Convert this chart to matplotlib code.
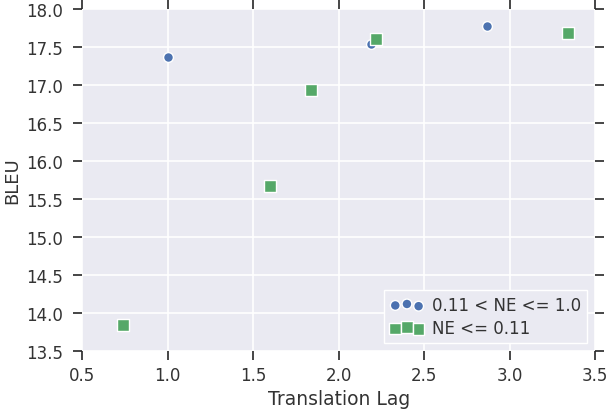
import matplotlib
matplotlib.use("Agg")
import matplotlib.pyplot as plt

# values
lag_high = [1.00, 2.19, 2.87]
bleu_high = [17.37, 17.54, 17.78]
lag_low = [0.74, 1.60, 1.84, 2.22, 3.34]
bleu_low = [13.84, 15.67, 16.94, 17.61, 17.69]
label_high = "0.11 < NE <= 1.0"
label_low = "NE <= 0.11"

blue = "#4C72B0"
green = "#55A868"

fig = plt.figure(figsize=(6.08, 4.10), dpi=100)
ax = fig.add_axes([0.135, 0.1415, 0.844, 0.834])
ax.set_facecolor("#EAEAF2")
for s in ax.spines.values():
    s.set_visible(False)
ax.grid(True, color="white", linewidth=1.2)
ax.set_axisbelow(True)

ax.scatter(lag_high, bleu_high, s=50, marker="o", color=blue, edgecolor="white",
           linewidth=1, label=label_high, zorder=3)
ax.scatter(lag_low, bleu_low, s=70, marker="s", color=green, edgecolor="white",
           linewidth=1, label=label_low, zorder=3)

ax.set_xlim(0.5, 3.5)
ax.set_ylim(13.5, 18.0)
ax.set_xticks([0.5, 1.0, 1.5, 2.0, 2.5, 3.0, 3.5])
ax.set_yticks([13.5, 14.0, 14.5, 15.0, 15.5, 16.0, 16.5, 17.0, 17.5, 18.0])
ax.tick_params(direction="out", length=6.5, width=1.2, color="#262626",
               top=True, right=True, labelsize=12, labelcolor="#333333")
ax.tick_params(axis="x", pad=4)
ax.tick_params(axis="y", pad=7.5)

ax.set_xlabel("Translation Lag", fontsize=13.5, color="#333333", labelpad=4)
ax.set_ylabel("BLEU", fontsize=13, color="#333333", labelpad=3)

leg = ax.legend(loc="lower right", scatterpoints=3, scatteryoffsets=[0.375, 0.5, 0.3125],
                fontsize=12, frameon=True, facecolor="#EAEAF2", edgecolor="white",
                framealpha=1, borderaxespad=0.5, handletextpad=0.5, labelspacing=0.3,
                borderpad=0.35, fancybox=False)
for t in leg.get_texts():
    t.set_color("#333333")

fig.savefig("out.png", dpi=100)
